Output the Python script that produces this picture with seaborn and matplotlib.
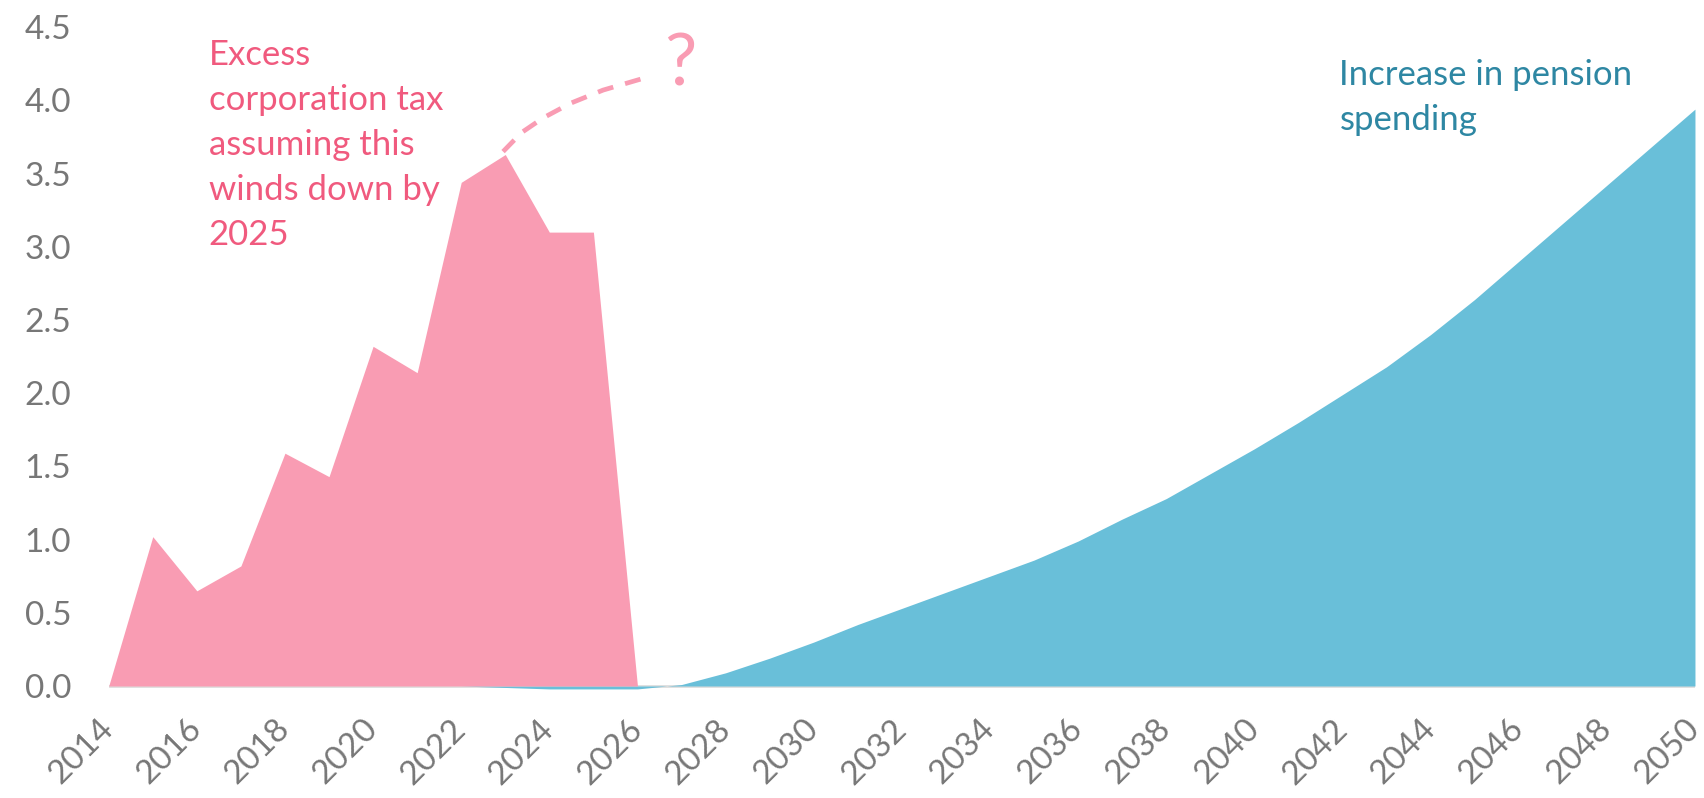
import matplotlib
matplotlib.use("Agg")
import matplotlib.pyplot as plt
import seaborn as sns
import pandas as pd

# excess corporation tax (GBP bn), winding down by 2025
tax_years = list(range(2014, 2027))
tax_values = [0.0, 1.02, 0.65, 0.82, 1.59, 1.43, 2.32, 2.14, 3.44, 3.63, 3.10, 3.10, 0.0]

# increase in pension spending
pension_years = list(range(2014, 2051))
pension_values = [0.0, 0.0, 0.0, 0.0, 0.0, 0.0, 0.0, 0.0, 0.0, -0.01, -0.02, -0.02, -0.02,
                  0.01, 0.09, 0.19, 0.30, 0.42, 0.53, 0.64, 0.75, 0.86, 0.99, 1.14, 1.28,
                  1.45, 1.62, 1.80, 1.99, 2.18, 2.40, 2.64, 2.90, 3.16, 3.42, 3.68, 3.94]

# speculative continuation of the tax line
dash_years = [2022.95, 2023.37, 2023.86, 2024.48, 2025.22, 2026.13]
dash_values = [3.65, 3.78, 3.88, 3.98, 4.07, 4.15]

x_ticks = list(range(2014, 2051, 2))
y_ticks = [0.0, 0.5, 1.0, 1.5, 2.0, 2.5, 3.0, 3.5, 4.0, 4.5]

tax_df = pd.DataFrame({'year': tax_years, 'value': tax_values})
pen_df = pd.DataFrame({'year': pension_years, 'value': pension_values})
dash_df = pd.DataFrame({'year': dash_years, 'value': dash_values})

sns.set_style("white")
plt.rcParams['font.family'] = ['Lato', 'DejaVu Sans']

PINK = '#f99cb3'
PINK_TEXT = '#f05a7e'
BLUE = '#69bfd9'
BLUE_TEXT = '#2e87a3'
GREY = '#777777'

fig = plt.figure(figsize=(17.04, 7.98), dpi=100)
ax = fig.add_axes([0.0638, 0.122, 0.9309, 0.844])

ax.fill_between(pen_df['year'], pen_df['value'], 0, color=BLUE, linewidth=0)
ax.fill_between(tax_df['year'], tax_df['value'], 0, color=PINK, linewidth=0)
sns.lineplot(data=dash_df, x='year', y='value', ax=ax, color=PINK,
             linewidth=3.4, linestyle=(0, (3.4, 2.6)), sort=False)
ax.axhline(0, color='#dddddd', linewidth=2, zorder=0)

ax.text(2026.97, 4.24, '?', color=PINK, fontsize=52, fontweight='normal',
        ha='center', va='center')
ax.text(2016.27, 4.42, 'Excess\ncorporation tax\nassuming this\nwinds down by\n2025',
        color=PINK_TEXT, fontsize=25, ha='left', va='top', linespacing=1.5)
ax.text(2041.93, 4.28, 'Increase in pension\nspending',
        color=BLUE_TEXT, fontsize=25, ha='left', va='top', linespacing=1.5)

ax.set_xlim(2014, 2050)
ax.set_ylim(-0.1, 4.5)
ax.set_xticks(x_ticks)
ax.set_xticklabels([str(t) for t in x_ticks], rotation=45, ha='right', va='center',
                   rotation_mode='anchor')
ax.set_yticks(y_ticks)
ax.set_yticklabels([f'{t:.1f}' for t in y_ticks])
ax.tick_params(axis='both', colors=GREY, labelsize=24, length=0)
ax.tick_params(axis='x', pad=17, labelsize=24)
ax.tick_params(axis='y', pad=27)
ax.set_xlabel('')
ax.set_ylabel('')
sns.despine(ax=ax, left=True, bottom=True)

fig.savefig('out.png', dpi=100)
